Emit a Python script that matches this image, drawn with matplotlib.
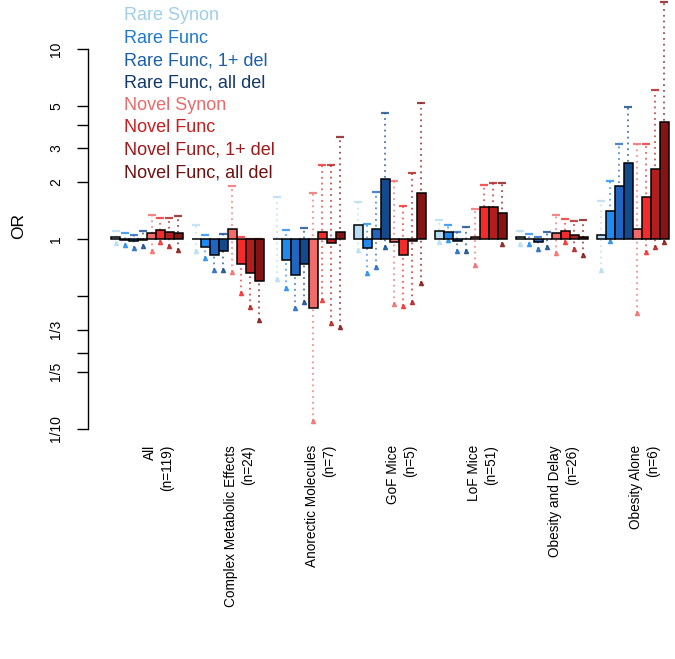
import numpy as np
import matplotlib
matplotlib.use('Agg')
import matplotlib.pyplot as plt
import matplotlib.transforms as mtransforms

plt.rcParams['font.family'] = ['Liberation Sans', 'DejaVu Sans']

# groups along the x axis
groups = ['All', 'Complex Metabolic Effects', 'Anorectic Molecules', 'GoF Mice',
          'LoF Mice', 'Obesity and Delay', 'Obesity Alone']
group_n = [119, 24, 7, 5, 51, 26, 6]

# the 8 series (same order as the legend)
series = ['Rare Synon', 'Rare Func', 'Rare Func, 1+ del', 'Rare Func, all del',
          'Novel Synon', 'Novel Func', 'Novel Func, 1+ del', 'Novel Func, all del']
bar_colors = ['#b7dcf3', '#1f8bf0', '#1f66c2', '#124a8c',
              '#f26b6b', '#f42b2b', '#b51c1c', '#861414']
text_colors = ['#9fcfe8', '#1f78d0', '#1a5fa8', '#12386a',
               '#e86a6a', '#c81e1e', '#a01818', '#6e1010']

# odds ratios, one row per group, one value per series
odds = [
    [1.02, 0.99, 0.975, 0.99, 1.08, 1.12, 1.085, 1.08],
    [1.00, 0.905, 0.82, 0.86, 1.13, 0.736, 0.66, 0.60],
    [1.00, 0.78, 0.646, 0.736, 0.435, 1.09, 0.95, 1.09],
    [1.18, 0.897, 1.125, 2.06, 0.96, 0.82, 0.98, 1.74],
    [1.105, 1.085, 0.98, 0.995, 1.03, 1.48, 1.48, 1.37],
    [1.025, 1.005, 0.97, 0.995, 1.075, 1.105, 1.05, 1.025],
    [1.05, 1.41, 1.91, 2.52, 1.13, 1.66, 2.33, 4.12],
]
ci_low = [
    [0.95, 0.93, 0.90, 0.92, 0.865, 0.97, 0.92, 0.87],
    [0.86, 0.79, 0.687, 0.69, 0.67, 0.52, 0.44, 0.375],
    [0.613, 0.55, 0.434, 0.468, 0.11, 0.48, 0.36, 0.346],
    [0.88, 0.665, 0.71, 0.91, 0.455, 0.446, 0.468, 0.585],
    [0.96, 0.99, 0.865, 0.865, 0.727, 1.12, 1.10, 0.945],
    [0.94, 0.94, 0.89, 0.905, 0.847, 0.96, 0.89, 0.827],
    [0.69, 0.98, 1.05, 1.10, 0.406, 0.85, 0.904, 0.96],
]
ci_high = [
    [1.10, 1.08, 1.045, 1.10, 1.34, 1.285, 1.285, 1.32],
    [1.19, 1.05, 0.99, 1.06, 1.90, 1.03, 1.00, 1.00],
    [1.67, 1.11, 0.98, 1.14, 1.74, 2.45, 2.45, 3.43],
    [1.56, 1.195, 1.77, 4.60, 2.03, 1.50, 2.22, 5.20],
    [1.26, 1.19, 1.085, 1.15, 1.43, 1.92, 1.98, 1.96],
    [1.105, 1.06, 1.03, 1.09, 1.33, 1.27, 1.25, 1.26],
    [1.59, 2.03, 3.16, 4.94, 3.16, 3.16, 6.10, 17.6],
]

yticks = [0.1, 0.2, 0.25, 1/3, 0.5, 1, 2, 3, 4, 5, 10]
ytick_labels = ['1/10', '1/5', '', '1/3', '', '1', '2', '3', '', '5', '10']

W, H = 675, 659
fig = plt.figure(figsize=(W / 100, H / 100), dpi=100)
# axes spans pixels x 88..675, y 0..440
ax = fig.add_axes([88 / W, 1 - 440 / H, 1 - 88 / W, 440 / H])
ax.set_yscale('log')
ax.set_ylim(10 ** (-(440 - 239) / 190), 10 ** (239 / 190))
ax.set_xlim(-1.556, 63.67)
label_trans = mtransforms.blended_transform_factory(ax.transData, fig.transFigure)

n_ser = len(series)
for g in range(len(groups)):
    start = 1 + g * (n_ser + 1)
    for s in range(n_ser):
        x = start + s + 0.5
        v = odds[g][s]
        lo, hi = ci_low[g][s], ci_high[g][s]
        c = bar_colors[s]
        ax.vlines(x, lo, hi, colors=c, linestyles=(0, (1, 2.2)), lw=1.3,
                  alpha=0.75, zorder=1)
        ax.plot(x, hi, marker='_', ms=6, mew=1.6, color=c, alpha=0.8, zorder=1)
        ax.plot(x, lo, marker='^', ms=3, color=c, alpha=0.8, zorder=1)
        ax.bar(x, abs(v - 1), bottom=min(v, 1), width=1, color=c,
               edgecolor='black', lw=1.1, zorder=2)
    # two-line group label under the bars
    ax.text(start + n_ser / 2 + 1.25, 1 - 445 / H, f'{groups[g]}\n(n={group_n[g]})',
            transform=label_trans, rotation=90, ha='center', va='top',
            multialignment='right', fontsize=9.8, linespacing=1.3)

ax.set_yticks(yticks)
ax.set_yticklabels(ytick_labels, rotation=90, va='center', fontsize=10)
ax.minorticks_off()
ax.tick_params(axis='y', length=8, width=1, pad=10)
ax.set_xticks([])
for side in ['top', 'right', 'bottom']:
    ax.spines[side].set_visible(False)
ax.spines['left'].set_bounds(0.1, 10)
ax.spines['left'].set_linewidth(1)

fig.text(19 / W, 1 - 226 / H, 'OR', rotation=90, ha='center', va='center',
         fontsize=12.5)

# legend as coloured text
for i, (name, tc) in enumerate(zip(series, text_colors)):
    fig.text(124 / W, 1 - (16 + i * 22.4) / H, name, color=tc, fontsize=13,
             ha='left', va='center')

fig.savefig('out.png', dpi=100)
